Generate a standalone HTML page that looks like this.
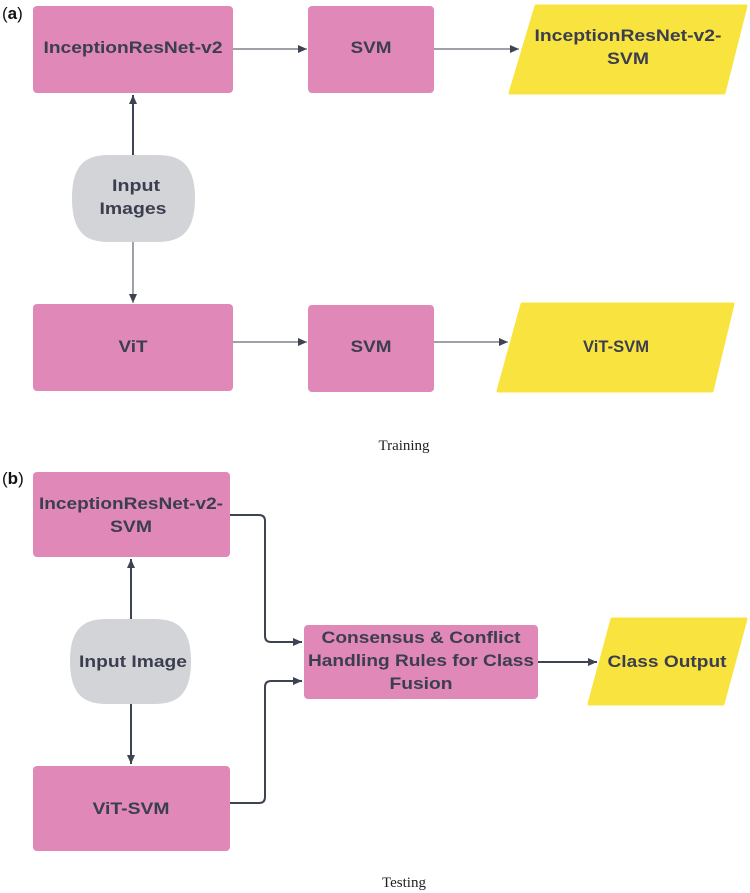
<!DOCTYPE html>
<html><head><meta charset="utf-8"><style>
html,body{margin:0;padding:0;background:#fff;}
svg{display:block;}
.t{font-family:"Liberation Sans",Arial,sans-serif;font-weight:bold;font-size:17px;fill:#3b3e4e;text-anchor:middle;}
.cap{font-family:"Liberation Serif",serif;font-size:15px;fill:#222;text-anchor:middle;}
.lab{font-family:"Liberation Sans",Arial,sans-serif;font-size:17px;fill:#111;}
</style></head><body>
<svg width="750" height="893" viewBox="0 0 750 893" xmlns="http://www.w3.org/2000/svg">
<defs>
<marker id="ah" markerWidth="10" markerHeight="10" refX="9" refY="5" orient="auto" markerUnits="userSpaceOnUse"><path d="M0,1 L9,5 L0,9 z" fill="#3d4350"/></marker>
</defs>
<!-- (a) -->
<text class="lab" x="2" y="19">(<tspan font-weight="bold">a</tspan>)</text>
<rect x="33" y="6" width="200" height="87" rx="4" fill="#e088b8"/>
<text class="t" x="133" y="53" textLength="179" lengthAdjust="spacingAndGlyphs">InceptionResNet-v2</text>
<rect x="308" y="6" width="126" height="87" rx="4" fill="#e088b8"/>
<text class="t" x="371" y="53" textLength="41" lengthAdjust="spacingAndGlyphs">SVM</text>
<path d="M536,6 L746,6 L724,93 L510,93 Z" fill="#f9e43f" stroke="#f9e43f" stroke-width="3" stroke-linejoin="round"/>
<text class="t" x="628" y="41" textLength="187" lengthAdjust="spacingAndGlyphs">InceptionResNet-v2-</text>
<text class="t" x="628" y="64" textLength="42" lengthAdjust="spacingAndGlyphs">SVM</text>
<path d="M72,198 C72,160 90,155 110,155 L156,155 C176,155 195,160 195,198 C195,237 176,242 156,242 L110,242 C90,242 72,237 72,198 Z" fill="#d3d4d8"/>
<text class="t" x="136" y="191" textLength="48" lengthAdjust="spacingAndGlyphs">Input</text>
<text class="t" x="133" y="214" textLength="67" lengthAdjust="spacingAndGlyphs">Images</text>
<line x1="133" y1="155" x2="133" y2="95" stroke="#3d4350" stroke-width="2" marker-end="url(#ah)"/>
<line x1="133" y1="242" x2="133" y2="303" stroke="#3d4350" stroke-width="1" marker-end="url(#ah)"/>
<line x1="233" y1="49" x2="307" y2="49" stroke="#3d4350" stroke-width="1" marker-end="url(#ah)"/>
<line x1="434" y1="49" x2="519" y2="49" stroke="#3d4350" stroke-width="1" marker-end="url(#ah)"/>
<rect x="33" y="304" width="200" height="87" rx="4" fill="#e088b8"/>
<text class="t" x="133" y="352" textLength="29" lengthAdjust="spacingAndGlyphs">ViT</text>
<rect x="308" y="305" width="126" height="87" rx="4" fill="#e088b8"/>
<text class="t" x="371" y="352" textLength="41" lengthAdjust="spacingAndGlyphs">SVM</text>
<path d="M522,304 L733,304 L712,391 L498,391 Z" fill="#f9e43f" stroke="#f9e43f" stroke-width="3" stroke-linejoin="round"/>
<text class="t" x="616" y="352" textLength="66" lengthAdjust="spacingAndGlyphs">ViT-SVM</text>
<line x1="233" y1="342" x2="307" y2="342" stroke="#3d4350" stroke-width="1" marker-end="url(#ah)"/>
<line x1="434" y1="342" x2="508" y2="342" stroke="#3d4350" stroke-width="1" marker-end="url(#ah)"/>
<text class="cap" x="404" y="450">Training</text>
<!-- (b) -->
<text class="lab" x="2" y="484">(<tspan font-weight="bold">b</tspan>)</text>
<rect x="33" y="472" width="197" height="85" rx="4" fill="#e088b8"/>
<text class="t" x="131" y="509" textLength="184" lengthAdjust="spacingAndGlyphs">InceptionResNet-v2-</text>
<text class="t" x="131" y="532" textLength="42" lengthAdjust="spacingAndGlyphs">SVM</text>
<path d="M70,661 C70,624 88,619 108,619 L153,619 C173,619 191,624 191,661 C191,699 173,704 153,704 L108,704 C88,704 70,699 70,661 Z" fill="#d3d4d8"/>
<text class="t" x="133" y="667" textLength="108" lengthAdjust="spacingAndGlyphs">Input Image</text>
<line x1="131" y1="619" x2="131" y2="559" stroke="#3d4350" stroke-width="2" marker-end="url(#ah)"/>
<line x1="131" y1="704" x2="131" y2="764" stroke="#3d4350" stroke-width="2" marker-end="url(#ah)"/>
<rect x="33" y="766" width="197" height="85" rx="4" fill="#e088b8"/>
<text class="t" x="131" y="814" textLength="77" lengthAdjust="spacingAndGlyphs">ViT-SVM</text>
<rect x="304" y="625" width="234" height="74" rx="4" fill="#e088b8"/>
<text class="t" x="421" y="643" textLength="199" lengthAdjust="spacingAndGlyphs" fill="#2a2030">Consensus &amp; Conflict</text>
<text class="t" x="421" y="666" textLength="226" lengthAdjust="spacingAndGlyphs">Handling Rules for Class</text>
<text class="t" x="421" y="689" textLength="63" lengthAdjust="spacingAndGlyphs">Fusion</text>
<path d="M612,619 L746,619 L723,704 L589,704 Z" fill="#f9e43f" stroke="#f9e43f" stroke-width="3" stroke-linejoin="round"/>
<text class="t" x="667" y="667" textLength="119" lengthAdjust="spacingAndGlyphs">Class Output</text>
<path d="M230,515 L259,515 Q265,515 265,521 L265,636 Q265,642 271,642 L302,642" fill="none" stroke="#3d4350" stroke-width="2" marker-end="url(#ah)"/>
<path d="M230,803 L259,803 Q265,803 265,797 L265,687 Q265,681 271,681 L302,681" fill="none" stroke="#3d4350" stroke-width="2" marker-end="url(#ah)"/>
<line x1="538" y1="662" x2="597" y2="662" stroke="#3d4350" stroke-width="2" marker-end="url(#ah)"/>
<text class="cap" x="404" y="887">Testing</text>
</svg>
</body></html>
